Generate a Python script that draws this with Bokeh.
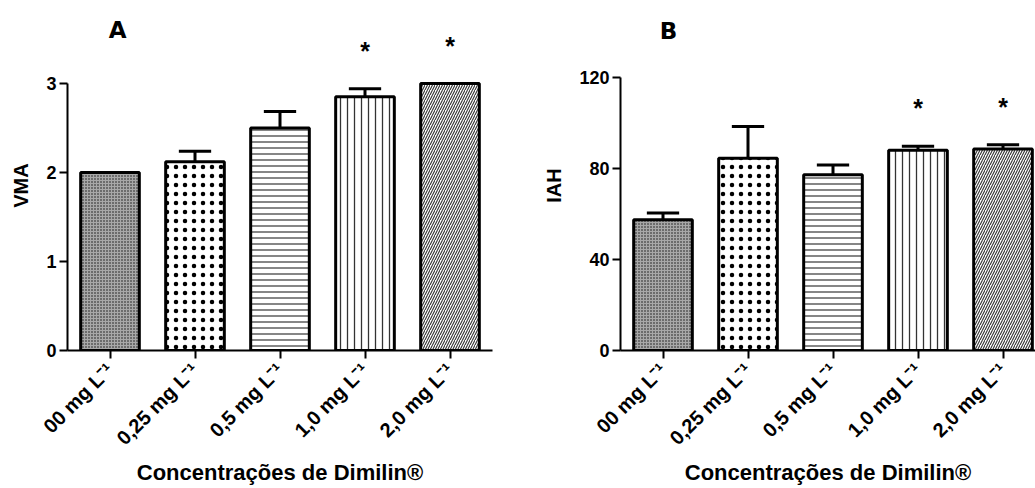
import math
from bokeh.plotting import figure
from bokeh.layouts import row
from bokeh.models import Range1d, FixedTicker, Label, ColumnDataSource
from bokeh.core.properties import value
from bokeh.embed import file_html
from bokeh.resources import INLINE

# ---- data ----
categories = ["00 mg L⁻¹", "0,25 mg L⁻¹", "0,5 mg L⁻¹", "1,0 mg L⁻¹", "2,0 mg L⁻¹"]
vma_mean = [2.0, 2.12, 2.50, 2.85, 3.0]
vma_err = [0.0, 0.12, 0.185, 0.09, 0.0]
iah_mean = [57.5, 84.5, 77.3, 88.1, 88.6]
iah_err = [3.0, 14.0, 4.3, 1.7, 1.9]
significant = [False, False, False, True, True]
vma_ticks = [0, 1, 2, 3]
iah_ticks = [0, 40, 80, 120]
x_title = "Concentrações de Dimilin®"

# ---- styles ----
FONT = "Liberation Sans"
fills = ["#a8a8a8", "white", "white", "white", "white"]
hatches = ["dot", "dot", "horizontal_line", "vertical_line", "right_diagonal_line"]
hscale = [3, 9, 6, 7, 5]
hweight = [0.6, 2.2, 1.2, 1.3, 1.1]
hcolor = ["#111111", "black", "#333333", "#333333", "#333333"]


def make_panel(means, errs, ticks, ylabel, letter, y_end, x_end, width,
               border_left, border_right, letter_pos):
    n = len(means)
    xs = list(range(n))
    p = figure(width=width, height=488, output_backend="svg", toolbar_location=None,
               x_range=Range1d(-0.5, x_end), y_range=Range1d(0, y_end),
               min_border_left=border_left, min_border_right=border_right,
               min_border_top=20, min_border_bottom=138)
    p.outline_line_color = None
    p.grid.visible = False
    p.background_fill_color = "white"

    src = ColumnDataSource(dict(x=xs, top=means, fill=fills, hatch=hatches,
                                hs=hscale, hw=hweight, hc=hcolor))
    p.vbar(x="x", top="top", bottom=0, width=0.69, source=src,
           fill_color="fill", line_color="black", line_width=3,
           hatch_pattern="hatch", hatch_scale="hs", hatch_weight="hw",
           hatch_color="hc")

    tops = [m + e for m, e in zip(means, errs)]
    cap = 0.19
    ex = [x for x, e in zip(xs, errs) if e > 0]
    em = [m for m, e in zip(means, errs) if e > 0]
    et = [t for t, e in zip(tops, errs) if e > 0]
    p.segment(x0=ex, y0=em, x1=ex, y1=et, line_color="black", line_width=3)
    p.segment(x0=[x - cap for x in ex], y0=et, x1=[x + cap for x in ex], y1=et,
              line_color="black", line_width=3)

    sx = [x for x, s in zip(xs, significant) if s]
    sy = [t for t, s in zip(tops, significant) if s]
    p.text(x=sx, y=sy, text=["*"] * len(sx), text_align="center",
           text_baseline="alphabetic", y_offset=-38,
           text_font=value(FONT), text_font_style="bold", text_font_size="25px",
           text_color="black")

    p.add_layout(Label(x=letter_pos[0], y=letter_pos[1], text=letter,
                       text_font="DejaVu Sans", text_font_style="bold",
                       text_font_size="23px", text_align="center",
                       text_baseline="middle", text_color="black"))

    # y axis
    yax = p.yaxis[0]
    yax.ticker = FixedTicker(ticks=ticks)
    yax.bounds = (ticks[0], ticks[-1])
    yax.axis_label = ylabel
    yax.axis_label_text_color = "black"
    yax.axis_label_text_font = FONT
    yax.axis_label_text_font_style = "bold"
    yax.axis_label_text_font_size = "20px"
    yax.axis_label_standoff = 11
    yax.major_label_text_color = "black"
    yax.major_label_text_font = FONT
    yax.major_label_text_font_style = "bold"
    yax.major_label_text_font_size = "18px"
    yax.major_label_standoff = 3
    yax.major_tick_out = 8
    yax.major_tick_in = 0
    yax.minor_tick_out = 0
    yax.minor_tick_in = 0
    yax.axis_line_width = 2
    yax.major_tick_line_width = 2

    # x axis
    xax = p.xaxis[0]
    xax.ticker = FixedTicker(ticks=xs)
    xax.major_label_overrides = {i: c for i, c in enumerate(categories)}
    xax.major_label_orientation = math.pi / 4
    xax.axis_label = x_title
    xax.axis_label_text_color = "black"
    xax.axis_label_text_font = FONT
    xax.axis_label_text_font_style = "bold"
    xax.axis_label_text_font_size = "22px"
    xax.axis_label_standoff = 0
    xax.major_label_text_color = "black"
    xax.major_label_text_font = FONT
    xax.major_label_text_font_style = "bold"
    xax.major_label_text_font_size = "20px"
    xax.major_label_standoff = 8
    xax.major_tick_out = 8
    xax.major_tick_in = 0
    xax.minor_tick_out = 0
    xax.minor_tick_in = 0
    xax.axis_line_width = 2
    xax.major_tick_line_width = 2
    return p


# panel A: frame x 67..492, y 20..350 (89 px per unit)
pA = make_panel(vma_mean, vma_err, vma_ticks, "VMA", "A",
                y_end=330 / 89.0, x_end=4.5, width=520,
                border_left=67, border_right=28, letter_pos=(0.09, 3.6))
# panel B: frame x 620..1035 (85 px per category), 2.274 px per unit
pB = make_panel(iah_mean, iah_err, iah_ticks, "IAH", "B",
                y_end=330 / 2.274, x_end=-0.5 + 415 / 85.0, width=515,
                border_left=100, border_right=0, letter_pos=(0.065, 140.7))

layout = row(pA, pB)
open("out.html", "w").write(file_html(layout, INLINE))
